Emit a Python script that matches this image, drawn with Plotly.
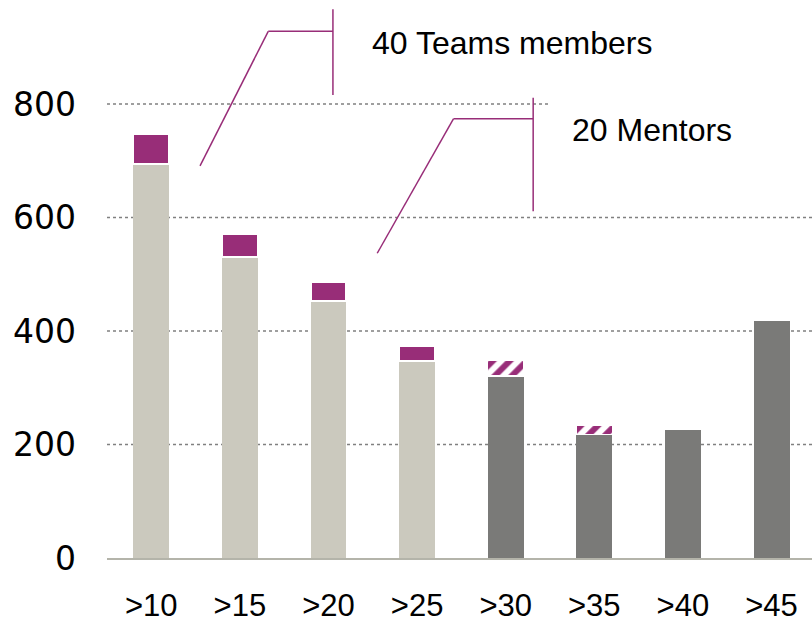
import plotly.graph_objects as go

categories = [">10", ">15", ">20", ">25", ">30", ">35", ">40", ">45"]
base_values = [695, 530, 453, 347, 321, 218, 226, 418]
mentor_solid = [52, 41, 33, 27, None, None, None, None]
mentor_hatched = [None, None, None, None, 28, 16, None, None]
y_ticks = [0, 200, 400, 600, 800]

LIGHT = "#cbc9be"
DARK = "#7a7a78"
PURPLE = "#982d78"
GRID = "#808080"

xpos = list(range(len(categories)))
base_colors = [LIGHT] * 4 + [DARK] * 4

fig = go.Figure()
fig.add_trace(go.Bar(x=xpos, y=base_values, marker=dict(color=base_colors, line=dict(width=0)),
                     hoverinfo="skip"))
fig.add_trace(go.Bar(x=xpos, y=mentor_solid,
                     marker=dict(color=PURPLE, line=dict(color="white", width=2))))
fig.add_trace(go.Bar(x=xpos, y=mentor_hatched,
                     marker=dict(color="white", line=dict(color="white", width=1.5),
                                 pattern=dict(shape="/", fgcolor=PURPLE, bgcolor="white",
                                              fgopacity=1, size=12, solidity=0.5,
                                              fillmode="overlay"))))

x_left, x_right = -0.5, 7.457
shapes = []
for t in y_ticks[1:]:
    x_end = 4.48 if t == 800 else x_right
    shapes.append(dict(type="line", xref="x", yref="y", x0=x_left, x1=x_end, y0=t, y1=t,
                       line=dict(color=GRID, width=1.5, dash="3px,3px"), layer="below"))

# leader lines
lead = dict(color=PURPLE, width=1.5)
shapes += [
    dict(type="line", xref="x", yref="y", x0=0.55, y0=691, x1=1.32, y1=928, line=lead),
    dict(type="line", xref="x", yref="y", x0=1.32, y0=928, x1=2.05, y1=928, line=lead),
    dict(type="line", xref="x", yref="y", x0=2.05, y0=967, x1=2.05, y1=816, line=lead),
    dict(type="line", xref="x", yref="y", x0=2.55, y0=537, x1=3.41, y1=774, line=lead),
    dict(type="line", xref="x", yref="y", x0=3.41, y0=774, x1=4.31, y1=774, line=lead),
    dict(type="line", xref="x", yref="y", x0=4.31, y0=811, x1=4.31, y1=611, line=lead),
]

annotations = [
    dict(text="40 Teams members", x=2.47, y=907, xref="x", yref="y", xanchor="left",
         yanchor="middle", showarrow=False,
         font=dict(family="Liberation Sans, Arial", size=32, color="black")),
    dict(text="20 Mentors", x=4.73, y=754, xref="x", yref="y", xanchor="left",
         yanchor="middle", showarrow=False,
         font=dict(family="Liberation Sans, Arial", size=32, color="black")),
]

fig.update_layout(
    width=812, height=624,
    margin=dict(l=107, r=0, t=0, b=66),
    barmode="stack", bargap=0.594, showlegend=False,
    plot_bgcolor="white", paper_bgcolor="white",
    shapes=shapes, annotations=annotations,
    xaxis=dict(range=[x_left, x_right], tickvals=xpos, ticktext=categories,
               showgrid=False, zeroline=False, showline=True, linecolor="#b4b4aa",
               linewidth=1.5, ticks="", ticklabelstandoff=19, automargin=False,
               tickfont=dict(family="Liberation Sans, Arial", size=31, color="black")),
    yaxis=dict(range=[0, 800 * 558 / 454], tickvals=y_ticks, showgrid=False,
               zeroline=False, showline=False, ticks="", ticklabelstandoff=30,
               automargin=False,
               tickfont=dict(family="DejaVu Sans", size=33, color="black")),
)

fig.write_html("out.html", config={"displayModeBar": False},
               post_script="document.body.style.margin='0';document.body.style.overflow='hidden';")
